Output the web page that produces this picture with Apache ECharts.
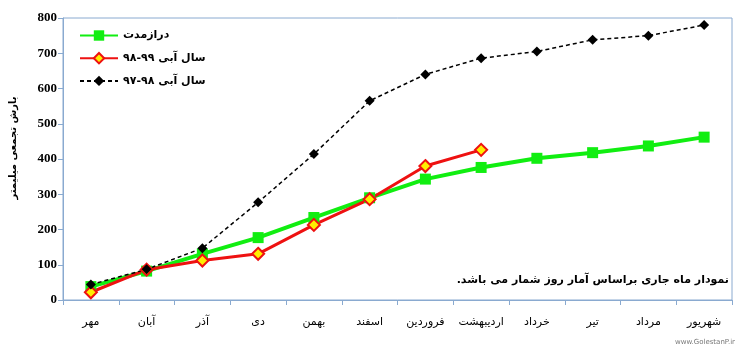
<!DOCTYPE html>
<html><head><meta charset="utf-8">
<script src="https://cdn.jsdelivr.net/npm/echarts@6/dist/echarts.min.js"></script>
<style>html,body{margin:0;padding:0;background:#fff}#c{width:747px;height:357px}</style>
</head><body><div id="c"></div>
<script>
const months = ['مهر','آبان','آذر','دی','بهمن','اسفند','فروردین','اردیبهشت','خرداد','تیر','مرداد','شهریور'];
const longTerm = [38, 82, 131, 177, 234, 290, 343, 376, 402, 418, 437, 462];
const year9899 = [22, 86, 112, 131, 213, 286, 380, 426];
const year9798 = [44, 87, 147, 277, 414, 565, 640, 686, 705, 738, 750, 780];
const yTicks = [0, 100, 200, 300, 400, 500, 600, 700, 800];
const names = ['درازمدت', 'سال آبی ۹۹-۹۸', 'سال آبی ۹۸-۹۷'];
const yName = 'بارش تجمعی میلیمتر';
const note = 'نمودار ماه جاری براساس آمار روز شمار می باشد.\u200F';

const axisColor = '#8aaad0';
const chart = echarts.init(document.getElementById('c'), null, {renderer:'canvas'});
chart.setOption({
  animation: false,
  backgroundColor: '#fff',
  textStyle: {fontFamily: 'DejaVu Sans'},
  grid: {left: 62, right: 15, top: 18, bottom: 57, show: true, borderColor: axisColor, borderWidth: 1},
  legend: {
    orient: 'vertical', left: 74, top: 25, itemWidth: 38, itemHeight: 13, itemGap: 11,
    textStyle: {fontFamily: 'DejaVu Sans', fontSize: 11, fontWeight: 'bold', color: '#000'},
    data: names
  },
  xAxis: {
    type: 'category', data: months, boundaryGap: true,
    axisLine: {lineStyle: {color: axisColor}},
    axisTick: {show: true, length: 5, lineStyle: {color: axisColor}},
    axisLabel: {color: '#000', fontSize: 11, margin: 17, fontFamily: 'DejaVu Sans', interval: 0},
    splitLine: {show: false}
  },
  yAxis: {
    type: 'value', min: yTicks[0], max: yTicks[yTicks.length-1], interval: 100,
    name: yName, nameLocation: 'middle', nameRotate: 90, nameGap: 45,
    nameTextStyle: {fontFamily: 'DejaVu Sans', fontSize: 10, fontWeight: 'bold', color: '#000', padding: [0,0,0,22]},
    axisLine: {show: true, lineStyle: {color: axisColor}},
    axisTick: {show: true, length: 5, lineStyle: {color: axisColor}},
    axisLabel: {color: '#000', fontSize: 13, fontWeight: 'bold', fontFamily: 'Liberation Serif', margin: 6},
    splitLine: {show: false}
  },
  series: [
    {name: names[0], type: 'line', data: longTerm, symbol: 'rect', symbolSize: 11,
     lineStyle: {color: '#11ee11', width: 4}, itemStyle: {color: '#11ee11'}},
    {name: names[1], type: 'line', data: year9899, symbol: 'diamond', symbolSize: 12,
     lineStyle: {color: '#ee1111', width: 3}, itemStyle: {color: '#ffee00', borderColor: '#ee1111', borderWidth: 2}},
    {name: names[2], type: 'line', data: year9798, symbol: 'diamond', symbolSize: 10,
     lineStyle: {color: '#000', width: 1.5, type: [4, 3]}, itemStyle: {color: '#000'}}
  ],
  graphic: [
    {type: 'text', right: 18, top: 275, style: {text: note, fontFamily: 'DejaVu Sans', fontSize: 11, fontWeight: 'bold', fill: '#000'}},
    {type: 'text', right: 12, top: 339, style: {text: 'www.GolestanP.ir', fontFamily: 'DejaVu Sans', fontSize: 7, fill: '#777'}}
  ]
});
</script></body></html>
